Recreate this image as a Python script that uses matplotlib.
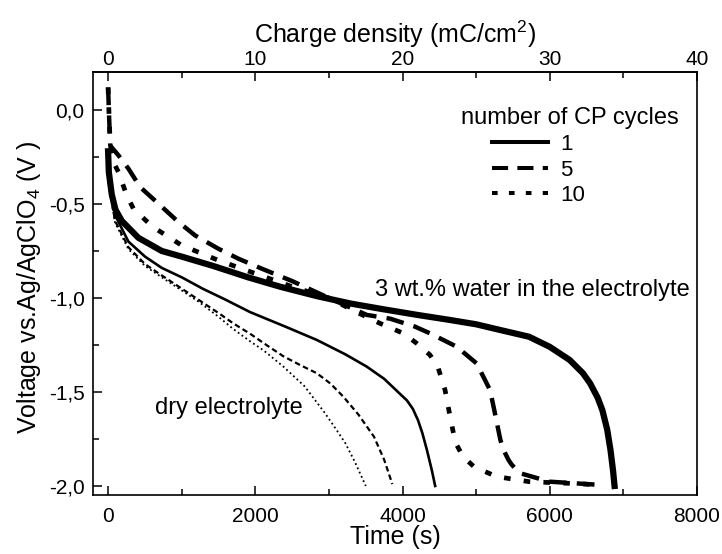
import matplotlib
matplotlib.use("Agg")
import matplotlib.pyplot as plt
from matplotlib.ticker import MultipleLocator, FixedLocator, FuncFormatter

plt.rcParams["font.family"] = ["Liberation Sans", "DejaVu Sans"]
plt.rcParams["mathtext.fontset"] = "custom"
plt.rcParams["mathtext.rm"] = "Liberation Sans"
plt.rcParams["mathtext.it"] = "Liberation Sans:italic"
plt.rcParams["mathtext.bf"] = "Liberation Sans:bold"

# ── data (time in s, voltage in V) ──────────────────────────────────────────
# electrolyte with 3 wt.% water
water_1_t = [0, 10, 50, 100, 186, 412, 729, 1000, 1430, 1900, 2336, 2834, 3300,
             3739, 4200, 4644, 5000, 5323, 5717, 6000, 6271, 6450, 6548, 6650,
             6714, 6780, 6825, 6860, 6880]
water_1_v = [-0.22, -0.33, -0.45, -0.53, -0.59, -0.68, -0.75, -0.78, -0.83, -0.89,
             -0.94, -0.99, -1.03, -1.06, -1.09, -1.117, -1.14, -1.17, -1.206,
             -1.26, -1.33, -1.40, -1.454, -1.53, -1.596, -1.70, -1.809, -1.92, -2.0]

water_5_t = [0, 15, 30, 140, 276, 435, 683, 955, 1181, 1498, 1770, 2087, 2500,
             3000, 3513, 3830, 4166, 4373, 4735, 5006, 5188, 5246, 5329, 5380,
             5440, 5480, 5550, 5606, 5994, 6714]
water_5_v = [0.12, -0.05, -0.19, -0.241, -0.312, -0.41, -0.498, -0.596, -0.667,
             -0.738, -0.791, -0.844, -0.91, -1.0, -1.09, -1.11, -1.152, -1.188,
             -1.259, -1.348, -1.489, -1.596, -1.755, -1.815, -1.862, -1.885,
             -1.915, -1.933, -1.977, -1.995]

water_10_t = [0, 15, 30, 72, 140, 253, 344, 600, 1000, 1500, 2000, 2500, 3000,
              3400, 3694, 4010, 4192, 4373, 4486, 4577, 4637, 4692, 4740, 4803,
              4880, 4969, 5274, 5717, 6271, 6714]
water_10_v = [0.12, -0.05, -0.19, -0.277, -0.33, -0.454, -0.525, -0.62, -0.72,
              -0.80, -0.87, -0.94, -1.0, -1.08, -1.135, -1.188, -1.241, -1.303,
              -1.374, -1.489, -1.613, -1.72, -1.785, -1.83, -1.865, -1.897,
              -1.950, -1.977, -1.986, -1.995]

# dry electrolyte
dry_1_t = [0, 10, 95, 276, 502, 729, 1000, 1282, 1600, 1928, 2393, 2834, 3224,
           3513, 3750, 3965, 4060, 4140, 4210, 4270, 4332, 4400, 4443]
dry_1_v = [-0.25, -0.37, -0.56, -0.70, -0.78, -0.84, -0.89, -0.95, -1.01, -1.075,
           -1.15, -1.223, -1.30, -1.365, -1.43, -1.51, -1.545, -1.59, -1.65,
           -1.72, -1.81, -1.92, -2.0]

dry_5_t = [0, 10, 95, 276, 502, 729, 1000, 1230, 1500, 1700, 1928, 2150, 2381,
           2600, 2834, 3020, 3196, 3400, 3612, 3750, 3861]
dry_5_v = [-0.27, -0.40, -0.59, -0.73, -0.82, -0.88, -0.95, -1.01, -1.08, -1.135,
           -1.19, -1.25, -1.31, -1.355, -1.40, -1.455, -1.525, -1.62, -1.738,
           -1.86, -1.99]

dry_10_t = [0, 10, 95, 276, 502, 729, 1000, 1230, 1500, 1700, 1928, 2116, 2381,
            2670, 2947, 3100, 3224, 3350, 3501]
dry_10_v = [-0.27, -0.41, -0.60, -0.74, -0.83, -0.89, -0.96, -1.02, -1.10, -1.165,
            -1.23, -1.28, -1.365, -1.47, -1.613, -1.70, -1.773, -1.87, -2.0]

cycle_labels = ["1", "5", "10"]
charge_per_s = 40 / 8000  # mC/cm^2 per second (top axis)
charge_ticks = [0, 10, 20, 30, 40]
charge_minor = [5, 15, 25, 35]

# ── figure ──────────────────────────────────────────────────────────────────
fig = plt.figure(figsize=(7.22, 5.54), dpi=100)
ax = fig.add_axes([93 / 722, 59 / 554, 604 / 722, 423 / 554])

# dry electrolyte, thin lines
ax.plot(dry_1_t, dry_1_v, color="black", lw=1.9, solid_joinstyle="round")
ax.plot(dry_5_t, dry_5_v, color="black", lw=1.6, dashes=(2.5, 1.5))
ax.plot(dry_10_t, dry_10_v, color="black", lw=1.3, dashes=(1.0, 1.6))

# 3 wt.% water, thick lines
l1, = ax.plot(water_1_t, water_1_v, color="black", lw=4.5,
              solid_joinstyle="round", label=cycle_labels[0])
l5, = ax.plot(water_5_t, water_5_v, color="black", lw=3.2, dashes=(4, 2.3),
              label=cycle_labels[1])
l10, = ax.plot(water_10_t, water_10_v, color="black", lw=3.4, dashes=(1.4, 2.8),
               label=cycle_labels[2])

ax.set_xlim(-205, 8000)
ax.set_ylim(-2.048, 0.202)

ax.xaxis.set_major_locator(MultipleLocator(2000))
ax.xaxis.set_minor_locator(MultipleLocator(1000))
ax.yaxis.set_major_locator(MultipleLocator(0.5))
ax.yaxis.set_minor_locator(MultipleLocator(0.25))


def comma_fmt(v, pos):
    s = f"{abs(v):.1f}".replace(".", ",")
    return s if v > -1e-9 else "-" + s


ax.yaxis.set_major_formatter(FuncFormatter(comma_fmt))

ax.tick_params(which="both", direction="in", top=False, right=False,
               labelsize=15, width=1.1)
ax.tick_params(which="major", length=6.5)
ax.tick_params(which="minor", length=4.5)
ax.tick_params(axis="x", pad=9)
ax.tick_params(axis="y", pad=6)
for sp in ax.spines.values():
    sp.set_linewidth(1.2)

sec = ax.secondary_xaxis("top", functions=(lambda t: t * charge_per_s,
                                           lambda q: q / charge_per_s))
sec.xaxis.set_major_locator(FixedLocator(charge_ticks))
sec.xaxis.set_minor_locator(FixedLocator(charge_minor))
sec.tick_params(which="both", direction="in", labelsize=15, width=1.1, pad=2.5)
sec.tick_params(which="major", length=6.5)
sec.tick_params(which="minor", length=4.5)
sec.spines["top"].set_linewidth(1.2)
sec.set_xlabel("Charge density (mC/cm$^2$)", fontsize=18, labelpad=5)

ax.set_xlabel("Time (s)", fontsize=18)
ax.xaxis.set_label_coords(0.5, -0.099)
ax.xaxis.label.set_va("center")
ax.set_ylabel("Voltage vs.Ag/AgClO$_4$ (V )", fontsize=18)
ax.yaxis.set_label_coords(-0.106, 0.49)
ax.yaxis.label.set_va("center")

ax.text(3626, -0.957, "3 wt.% water in the electrolyte", fontsize=17,
        ha="left", va="center")
ax.text(640, -1.585, "dry electrolyte", fontsize=17, ha="left", va="center")

ax.text(0.609, 0.891, "number of CP cycles", transform=ax.transAxes,
        fontsize=17, ha="left", va="center")
leg = ax.legend(handles=[l1, l5, l10], loc="upper left",
                bbox_to_anchor=(0.661, 0.853), frameon=False, fontsize=16,
                borderpad=0, borderaxespad=0, handlelength=2.52,
                handletextpad=0.54, labelspacing=0.2)
for h in leg.legend_handles:
    h.set_linewidth(2.9)

fig.savefig("out.png", dpi=100)
